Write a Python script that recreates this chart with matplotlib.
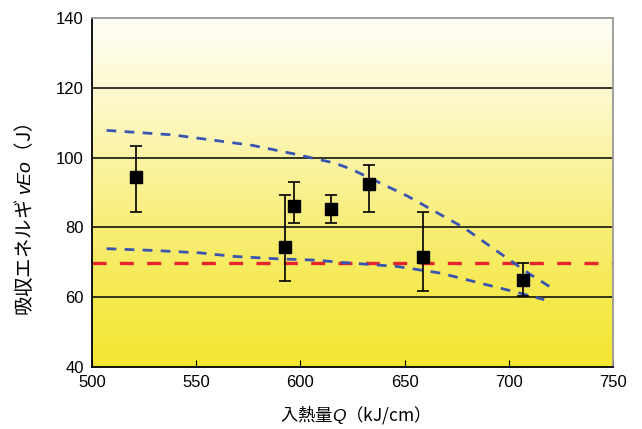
import numpy as np
import matplotlib
matplotlib.use("Agg")
import matplotlib.pyplot as plt
from matplotlib.colors import LinearSegmentedColormap

# ---- data ----
q_points = [521, 592.5, 597, 614.5, 633, 659, 707]
e_points = [94.5, 74.3, 86.2, 85.3, 92.5, 71.4, 65.0]
e_upper = [103.2, 89.2, 93.1, 89.2, 98.0, 84.3, 69.8]
e_lower = [84.3, 64.7, 81.3, 81.3, 84.3, 61.8, 60.4]

q_curve_hi = [507, 539, 558, 577, 596.6, 616, 624, 651.3, 678.5, 694.6, 710.6, 719.4]
e_curve_hi = [107.8, 106.5, 105, 103.5, 101.1, 98.5, 96.8, 89, 79.9, 73.1, 66.4, 63.1]
q_curve_lo = [507, 529.3, 552, 567.8, 588.8, 608, 619.2, 646.5, 667.3, 686.5, 702.5, 717]
e_curve_lo = [73.9, 73.4, 72.7, 71.7, 71.0, 70.6, 70.0, 68.8, 66.9, 64.0, 61.6, 59.3]

e_required = 69.8

x_ticks = [500, 550, 600, 650, 700, 750]
y_ticks = [40, 60, 80, 100, 120, 140]

# ---- style ----
plt.rcParams['mathtext.fontset'] = 'custom'
plt.rcParams['mathtext.it'] = 'Liberation Sans:italic'
plt.rcParams['mathtext.rm'] = 'Liberation Sans'

fig = plt.figure(figsize=(6.42, 4.29), dpi=100)
ax = fig.add_axes([92/642, 1 - 367/429, (613-92)/642, (367-18)/429])

# background gradient
cmap = LinearSegmentedColormap.from_list(
    "bg", [(0.0, "#f4e630"), (0.25, "#f6ea58"), (0.5, "#f9f08e"),
           (0.75, "#fcf8c8"), (1.0, "#fffef6")])
grad = np.linspace(0, 1, 256).reshape(-1, 1)
ax.imshow(grad, cmap=cmap, aspect='auto', origin='lower',
          extent=[500, 750, 40, 140], zorder=0)

for y in [60, 80, 100, 120]:
    ax.axhline(y, color='black', lw=1.1, zorder=1)

ax.axhline(e_required, color='#e5242b', lw=2.4, dashes=(4.2, 4.0), zorder=2)
ax.plot(q_curve_hi, e_curve_hi, color='#3a55b0', lw=2.0, dashes=(3.5, 3.0), zorder=2)
ax.plot(q_curve_lo, e_curve_lo, color='#3a55b0', lw=2.0, dashes=(3.5, 3.0), zorder=2)

yerr = [np.array(e_points) - np.array(e_lower), np.array(e_upper) - np.array(e_points)]
ax.errorbar(q_points, e_points, yerr=yerr, fmt='s', color='black', ms=8,
            ecolor='black', elinewidth=1.2, capsize=4.5, capthick=1.2, zorder=3)

ax.set_xlim(500, 750)
ax.set_ylim(40, 140)
ax.set_xticks(x_ticks)
ax.set_yticks(y_ticks)
ax.tick_params(axis='x', direction='in', length=5, labelsize=12, pad=6)
ax.tick_params(axis='y', length=0, labelsize=12, pad=6)
for lab in ax.get_xticklabels() + ax.get_yticklabels():
    lab.set_fontfamily('Liberation Sans')

ax.spines['left'].set_color('black')
ax.spines['bottom'].set_color('black')
ax.spines['top'].set_color('#999999')
ax.spines['right'].set_color('#999999')
for s in ax.spines.values():
    s.set_linewidth(1.3)

fig.text(350/642, 1 - 415/429, '入熱量$Q$（kJ/cm）', fontsize=12.5,
         family='Noto Sans CJK JP', ha='center', va='center')
fig.text(25/642, 1 - 220/429, '吸収エネルギ $vEo$（J）', fontsize=14,
         family='Noto Sans CJK JP', ha='center', va='center', rotation=90)

fig.savefig('out.png', dpi=100)
